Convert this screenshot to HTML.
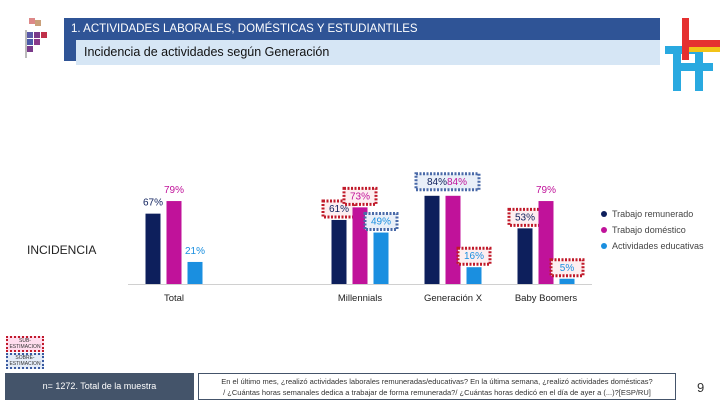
<!DOCTYPE html>
<html><head><meta charset="utf-8">
<style>
body{margin:0;width:720px;height:405px;overflow:hidden;background:#fff;font-family:"Liberation Sans",sans-serif;position:relative}
.abs{position:absolute}
</style></head><body>
<div class="abs" style="left:25px;top:18px;width:24px;height:40px">
 <div class="abs" style="left:4px;top:0;width:6px;height:6px;background:#d88"></div>
 <div class="abs" style="left:10px;top:2px;width:6px;height:6px;background:#c9a07a"></div>
 <div class="abs" style="left:2px;top:14px;width:6px;height:6px;background:#5a5aa8"></div>
 <div class="abs" style="left:9px;top:14px;width:6px;height:6px;background:#7a3a8a"></div>
 <div class="abs" style="left:16px;top:14px;width:6px;height:6px;background:#c0304a"></div>
 <div class="abs" style="left:2px;top:21px;width:6px;height:6px;background:#4a5aa8"></div>
 <div class="abs" style="left:9px;top:21px;width:6px;height:6px;background:#8a3a8a"></div>
 <div class="abs" style="left:2px;top:28px;width:6px;height:6px;background:#7a3a8a"></div>
 <div class="abs" style="left:0;top:12px;width:2px;height:28px;background:#bbb"></div>
</div>
<div class="abs" style="left:64px;top:18px;width:596px;height:22px;background:#2f5496;color:#fff;font-size:11.5px;line-height:22px;padding-left:7px;box-sizing:border-box">1. ACTIVIDADES LABORALES, DOMÉSTICAS Y ESTUDIANTILES</div>
<div class="abs" style="left:64px;top:40px;width:12px;height:21px;background:#2f5496"></div>
<div class="abs" style="left:76px;top:40px;width:584px;height:25px;background:#d6e6f5;color:#111;font-size:12.5px;line-height:25px;padding-left:8px;box-sizing:border-box">Incidencia de actividades según Generación</div>
<div class="abs" style="left:665px;top:18px;width:55px;height:60px">
 <div class="abs" style="left:0;top:28px;width:35px;height:8px;background:#29a9e0"></div>
 <div class="abs" style="left:15px;top:45px;width:33px;height:8px;background:#29a9e0"></div>
 <div class="abs" style="left:8px;top:28px;width:8px;height:45px;background:#29a9e0"></div>
 <div class="abs" style="left:30px;top:28px;width:8px;height:45px;background:#29a9e0"></div>
 <div class="abs" style="left:17px;top:0;width:7px;height:42px;background:#e53030"></div>
 <div class="abs" style="left:24px;top:22px;width:31px;height:7px;background:#e53030"></div>
 <div class="abs" style="left:24px;top:29px;width:31px;height:5px;background:#f2c318"></div>
</div>
<div class="abs" style="left:27px;top:243px;font-size:12px;color:#222">INCIDENCIA</div>

<svg class="abs" style="left:0;top:0" width="720" height="405" id="chart"></svg>

<div class="abs" style="left:601px;top:206px;font-size:9px;color:#444;line-height:16px">
 <div><span style="display:inline-block;width:6px;height:6px;border-radius:3px;background:#0d1f5c;margin-right:5px"></span>Trabajo remunerado</div>
 <div><span style="display:inline-block;width:6px;height:6px;border-radius:3px;background:#c0129a;margin-right:5px"></span>Trabajo doméstico</div>
 <div><span style="display:inline-block;width:6px;height:6px;border-radius:3px;background:#1a8fe0;margin-right:5px"></span>Actividades educativas</div>
</div>

<div class="abs" style="left:6px;top:336px;width:38px;height:16px;border:2px dotted #c01a2a;background:#fde;font-size:5px;text-align:center;color:#333;box-sizing:border-box">SUB-<br>ESTIMACION</div>
<div class="abs" style="left:6px;top:353px;width:38px;height:16px;border:2px dotted #3a5aa0;background:#e4ecf8;font-size:5px;text-align:center;color:#333;box-sizing:border-box">SOBRE-<br>ESTIMACION</div>
<div class="abs" style="left:5px;top:373px;width:189px;height:27px;background:#44546a;color:#fff;font-size:9px;line-height:27px;text-align:center">n= 1272. Total de la muestra</div>
<div class="abs" style="left:198px;top:373px;width:478px;height:27px;border:1.5px solid #44546a;box-sizing:border-box;font-size:7.5px;color:#333;text-align:center;line-height:11px;padding-top:2px">En el último mes, ¿realizó actividades laborales remuneradas/educativas? En la última semana, ¿realizó actividades domésticas?<br>/ ¿Cuántas horas semanales dedica a trabajar de forma remunerada?/ ¿Cuántas horas dedicó en el día de ayer a (...)?[ESP/RU]</div>
<div class="abs" style="left:697px;top:380px;font-size:13px;color:#333">9</div>

<script>
const categories=["Total","Millennials","Generación X","Baby Boomers"];
const slots=[0,2,3,4];
const remunerado=[67,61,84,53];
const domestico=[79,73,84,79];
const educativas=[21,49,16,5];
const remLabels=["67%","61%","84%","53%"];
const domLabels=["79%","73%","84%","79%"];
const eduLabels=["21%","49%","16%","5%"];
const remBox=[null,"sub",null,"sub"];
const domBox=[null,"sub",null,null];
const eduBox=[null,"sobre","sub","sub"];
const svg=document.getElementById('chart');
const NS='http://www.w3.org/2000/svg';
const base=284, pxPer=1.05;
const y=v=>base-v*pxPer;
const xc=i=>174+slots[i]*93;
function mk(t,a){const e=document.createElementNS(NS,t);for(const k in a)e.setAttribute(k,a[k]);svg.appendChild(e);return e;}
let ax=mk('line',{x1:128,x2:592,y1:base+0.5,y2:base+0.5,stroke:'#d0d0d0','stroke-width':1});


const series=[[remunerado,'#0d1f5c','#0d1f5c',remLabels,remBox,-21],[domestico,'#c0129a','#c0129a',domLabels,domBox,0],[educativas,'#1a8fe0','#1a8fe0',eduLabels,eduBox,21]];
function box(cx,ty,kind){
 const b=mk('rect',{x:cx-16,y:ty-11,width:32,height:16,fill:kind==='sub'?'#fdeef0':'#e9eff8',stroke:kind==='sub'?'#c01a2a':'#4a6aa8','stroke-width':3,'stroke-dasharray':'2 1.5'});
 
 
}
categories.forEach((c,i)=>{
 const t=mk('text',{x:xc(i),y:base+17,'text-anchor':'middle','font-size':9.5,fill:'#222'});t.textContent=c;
 
 
 series.forEach((s,k)=>{
  const v=s[0][i],cx=xc(i)+s[5];
  const r=mk('rect',{x:cx-7.5,y:y(v),width:15,height:v*pxPer,fill:s[1]});
  
  
  if(i===2&&k<2) return;
  const ty=y(v)-8;
  if(s[4][i]) box(cx,ty,s[4][i]);
  const l=mk('text',{x:cx,y:ty,'text-anchor':'middle','font-size':10,fill:s[2]});l.textContent=s[3][i];
  
  
 });
});
const gx=xc(2), gy=y(Math.max(remunerado[2],domestico[2]))-11;
const gb=mk('rect',{x:gx-37,y:gy-11,width:63,height:16,fill:'#e9eff8',stroke:'#4a6aa8','stroke-width':3,'stroke-dasharray':'2 1.5'});


[[remLabels[2],-16,'#0d1f5c'],[domLabels[2],4,'#c0129a']].forEach(a=>{
 const l=mk('text',{x:gx+a[1],y:gy,'text-anchor':'middle','font-size':10,fill:a[2]});l.textContent=a[0];
 
 
});
</script>
</body></html>
